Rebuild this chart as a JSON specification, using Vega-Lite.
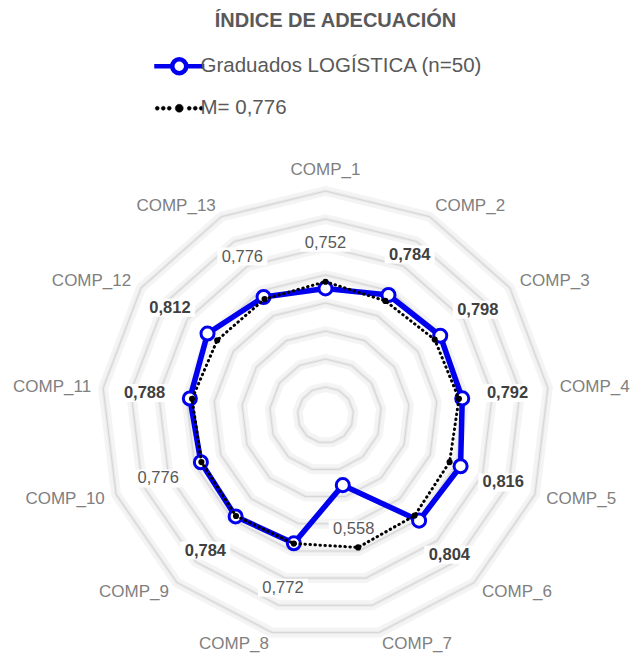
{
  "$schema": "https://vega.github.io/schema/vega-lite/v6.json",
  "width": 631,
  "height": 653,
  "autosize": "none",
  "padding": 0,
  "background": "white",
  "config": {
    "view": {"stroke": null},
    "font": "Liberation Sans",
    "locale": {"number": {"decimal": ",", "thousands": ".", "grouping": [3], "currency": ["", " €"]}}
  },
  "title": {
    "text": "ÍNDICE DE ADECUACIÓN",
    "font": "Liberation Sans",
    "fontSize": 20,
    "fontWeight": "bold",
    "color": "#595959",
    "anchor": "middle",
    "offset": -31,
    "dx": 20
  },
  "datasets": {
    "points": [
      {"comp": "COMP_1", "k": 0, "serie": "Graduados LOGÍSTICA (n=50)", "value": 0.752},
      {"comp": "COMP_2", "k": 1, "serie": "Graduados LOGÍSTICA (n=50)", "value": 0.784},
      {"comp": "COMP_3", "k": 2, "serie": "Graduados LOGÍSTICA (n=50)", "value": 0.798},
      {"comp": "COMP_4", "k": 3, "serie": "Graduados LOGÍSTICA (n=50)", "value": 0.792},
      {"comp": "COMP_5", "k": 4, "serie": "Graduados LOGÍSTICA (n=50)", "value": 0.816},
      {"comp": "COMP_6", "k": 5, "serie": "Graduados LOGÍSTICA (n=50)", "value": 0.804},
      {"comp": "COMP_7", "k": 6, "serie": "Graduados LOGÍSTICA (n=50)", "value": 0.558},
      {"comp": "COMP_8", "k": 7, "serie": "Graduados LOGÍSTICA (n=50)", "value": 0.772},
      {"comp": "COMP_9", "k": 8, "serie": "Graduados LOGÍSTICA (n=50)", "value": 0.784},
      {"comp": "COMP_10", "k": 9, "serie": "Graduados LOGÍSTICA (n=50)", "value": 0.776},
      {"comp": "COMP_11", "k": 10, "serie": "Graduados LOGÍSTICA (n=50)", "value": 0.788},
      {"comp": "COMP_12", "k": 11, "serie": "Graduados LOGÍSTICA (n=50)", "value": 0.812},
      {"comp": "COMP_13", "k": 12, "serie": "Graduados LOGÍSTICA (n=50)", "value": 0.776},
      {"comp": "COMP_1", "k": 0, "serie": "M= 0,776", "value": 0.776},
      {"comp": "COMP_2", "k": 1, "serie": "M= 0,776", "value": 0.760},
      {"comp": "COMP_3", "k": 2, "serie": "M= 0,776", "value": 0.774},
      {"comp": "COMP_4", "k": 3, "serie": "M= 0,776", "value": 0.780},
      {"comp": "COMP_5", "k": 4, "serie": "M= 0,776", "value": 0.774},
      {"comp": "COMP_6", "k": 5, "serie": "M= 0,776", "value": 0.780},
      {"comp": "COMP_7", "k": 6, "serie": "M= 0,776", "value": 0.787},
      {"comp": "COMP_8", "k": 7, "serie": "M= 0,776", "value": 0.773},
      {"comp": "COMP_9", "k": 8, "serie": "M= 0,776", "value": 0.782},
      {"comp": "COMP_10", "k": 9, "serie": "M= 0,776", "value": 0.774},
      {"comp": "COMP_11", "k": 10, "serie": "M= 0,776", "value": 0.780},
      {"comp": "COMP_12", "k": 11, "serie": "M= 0,776", "value": 0.770},
      {"comp": "COMP_13", "k": 12, "serie": "M= 0,776", "value": 0.768}
    ],
    "grid": [
      {"level": 0.4, "k": [0, 1, 2, 3, 4, 5, 6, 7, 8, 9, 10, 11, 12]},
      {"level": 0.5, "k": [0, 1, 2, 3, 4, 5, 6, 7, 8, 9, 10, 11, 12]},
      {"level": 0.6, "k": [0, 1, 2, 3, 4, 5, 6, 7, 8, 9, 10, 11, 12]},
      {"level": 0.7, "k": [0, 1, 2, 3, 4, 5, 6, 7, 8, 9, 10, 11, 12]},
      {"level": 0.8, "k": [0, 1, 2, 3, 4, 5, 6, 7, 8, 9, 10, 11, 12]},
      {"level": 0.9, "k": [0, 1, 2, 3, 4, 5, 6, 7, 8, 9, 10, 11, 12]},
      {"level": 1.0, "k": [0, 1, 2, 3, 4, 5, 6, 7, 8, 9, 10, 11, 12]},
      {"level": 1.1, "k": [0, 1, 2, 3, 4, 5, 6, 7, 8, 9, 10, 11, 12]}
    ]
  },
  "layer": [
    {
      "data": {"name": "grid"},
      "transform": [
        {"flatten": ["k"]},
        {"calculate": "datum.k * 2 * PI / 13", "as": "theta"},
        {"calculate": "(datum.level - 0.3) * sin(datum.theta)", "as": "px"},
        {"calculate": "(datum.level - 0.3) * cos(datum.theta)", "as": "py"}
      ],
      "mark": {"type": "line", "interpolate": "linear-closed", "stroke": "#f4f4f4", "strokeWidth": 10, "strokeJoin": "round"},
      "encoding": {
        "x": {"field": "px", "type": "quantitative", "scale": {"domain": [-1.1625, 1.0911], "nice": false, "zero": false}, "axis": null},
        "y": {"field": "py", "type": "quantitative", "scale": {"domain": [-0.85, 1.4821], "nice": false, "zero": false}, "axis": null},
        "detail": {"field": "level", "type": "nominal"},
        "order": {"field": "k", "type": "quantitative"}
      }
    },
    {
      "data": {"name": "grid"},
      "transform": [
        {"flatten": ["k"]},
        {"calculate": "datum.k * 2 * PI / 13", "as": "theta"},
        {"calculate": "(datum.level - 0.3) * sin(datum.theta)", "as": "px"},
        {"calculate": "(datum.level - 0.3) * cos(datum.theta)", "as": "py"}
      ],
      "mark": {"type": "line", "interpolate": "linear-closed", "stroke": "#ebebeb", "strokeWidth": 3.5, "strokeJoin": "round"},
      "encoding": {
        "x": {"field": "px", "type": "quantitative"},
        "y": {"field": "py", "type": "quantitative"},
        "detail": {"field": "level", "type": "nominal"},
        "order": {"field": "k", "type": "quantitative"}
      }
    },
    {
      "data": {"name": "grid"},
      "transform": [
        {"flatten": ["k"]},
        {"calculate": "datum.k * 2 * PI / 13", "as": "theta"},
        {"calculate": "(datum.level - 0.3) * sin(datum.theta)", "as": "px"},
        {"calculate": "(datum.level - 0.3) * cos(datum.theta)", "as": "py"}
      ],
      "mark": {"type": "line", "interpolate": "linear-closed", "stroke": "#d6d6d6", "strokeWidth": 1.1},
      "encoding": {
        "x": {"field": "px", "type": "quantitative"},
        "y": {"field": "py", "type": "quantitative"},
        "detail": {"field": "level", "type": "nominal"},
        "order": {"field": "k", "type": "quantitative"}
      }
    },
    {
      "data": {"name": "points"},
      "transform": [
        {"filter": "datum.serie === 'Graduados LOGÍSTICA (n=50)'"},
        {"calculate": "datum.k * 2 * PI / 13", "as": "theta"},
        {"calculate": "(datum.value - 0.3 + 0.163) * sin(datum.theta)", "as": "px"},
        {"calculate": "(datum.value - 0.3 + 0.163) * cos(datum.theta)", "as": "py"}
      ],
      "mark": {"type": "point", "shape": "M-1,-0.36H1V0.36H-1Z", "size": 2500, "filled": true, "fill": "white", "opacity": 1, "strokeWidth": 0},
      "encoding": {
        "x": {"field": "px", "type": "quantitative"},
        "y": {"field": "py", "type": "quantitative"}
      }
    },
    {
      "data": {"name": "points"},
      "transform": [
        {"filter": "datum.serie === 'Graduados LOGÍSTICA (n=50)'"},
        {"calculate": "datum.k * 2 * PI / 13", "as": "theta"},
        {"calculate": "(datum.value - 0.3) * sin(datum.theta)", "as": "px"},
        {"calculate": "(datum.value - 0.3) * cos(datum.theta)", "as": "py"}
      ],
      "mark": {"type": "line", "interpolate": "linear-closed", "strokeWidth": 5.5, "strokeJoin": "round"},
      "encoding": {
        "x": {"field": "px", "type": "quantitative"},
        "y": {"field": "py", "type": "quantitative"},
        "order": {"field": "k", "type": "quantitative"},
        "color": {
          "field": "serie",
          "type": "nominal",
          "scale": {"domain": ["Graduados LOGÍSTICA (n=50)", "M= 0,776"], "range": ["#0000ee", "#000000"]},
          "legend": {
            "title": null,
            "orient": "none",
            "legendX": 169,
            "legendY": 56,
            "padding": 0,
            "direction": "vertical",
            "labelFont": "Liberation Sans",
            "labelFontSize": 20.5,
            "labelColor": "#595959",
            "labelOffset": 11,
            "symbolOffset": 0,
            "symbolSize": 100,
            "rowPadding": 15,
            "labelLimit": 400,
            "encode": {
              "symbols": {
                "update": {
                  "shape": {"signal": "datum.value === 'M= 0,776' ? 'M-4,0A0.4,0.4,0,1,1,-4.8,0A0.4,0.4,0,1,1,-4,0ZM-2.8,0A0.4,0.4,0,1,1,-3.6,0A0.4,0.4,0,1,1,-2.8,0ZM-1.6,0A0.4,0.4,0,1,1,-2.4,0A0.4,0.4,0,1,1,-1.6,0ZM0.8,0A0.8,0.8,0,1,1,-0.8,0A0.8,0.8,0,1,1,0.8,0ZM2.4,0A0.4,0.4,0,1,1,1.6,0A0.4,0.4,0,1,1,2.4,0ZM3.6,0A0.4,0.4,0,1,1,2.8,0A0.4,0.4,0,1,1,3.6,0ZM4.8,0A0.4,0.4,0,1,1,4,0A0.4,0.4,0,1,1,4.8,0Z' : 'M-5,0H-1.4M1.4,0H5M1.4,0A1.4,1.4,0,1,1,-1.4,0A1.4,1.4,0,1,1,1.4,0Z'"},
                  "fill": {"signal": "datum.value === 'M= 0,776' ? '#000000' : '#ffffff'"},
                  "stroke": {"signal": "datum.value === 'M= 0,776' ? '#000000' : '#0000ee'"},
                  "strokeWidth": {"signal": "datum.value === 'M= 0,776' ? 0.5 : 4.5"},
                  "strokeDash": {"value": []},
                  "size": {"value": 100},
                  "opacity": {"value": 1},
                  "fillOpacity": {"value": 1}
                }
              }
            }
          }
        }
      }
    },
    {
      "data": {"name": "points"},
      "transform": [
        {"filter": "datum.serie === 'Graduados LOGÍSTICA (n=50)'"},
        {"calculate": "datum.k * 2 * PI / 13", "as": "theta"},
        {"calculate": "(datum.value - 0.3) * sin(datum.theta)", "as": "px"},
        {"calculate": "(datum.value - 0.3) * cos(datum.theta)", "as": "py"}
      ],
      "mark": {"type": "point", "shape": "circle", "size": 170, "filled": false, "fill": "white", "fillOpacity": 1, "stroke": "#0000ee", "strokeWidth": 3, "opacity": 1},
      "encoding": {
        "x": {"field": "px", "type": "quantitative"},
        "y": {"field": "py", "type": "quantitative"}
      }
    },
    {
      "data": {"name": "points"},
      "transform": [
        {"filter": "datum.serie === 'M= 0,776'"},
        {"calculate": "datum.k * 2 * PI / 13", "as": "theta"},
        {"calculate": "(datum.value - 0.3) * sin(datum.theta)", "as": "px"},
        {"calculate": "(datum.value - 0.3) * cos(datum.theta)", "as": "py"}
      ],
      "mark": {"type": "line", "interpolate": "linear-closed", "strokeWidth": 3, "strokeDash": [0.5, 4.5], "strokeCap": "round"},
      "encoding": {
        "x": {"field": "px", "type": "quantitative"},
        "y": {"field": "py", "type": "quantitative"},
        "order": {"field": "k", "type": "quantitative"},
        "color": {"field": "serie", "type": "nominal"}
      }
    },
    {
      "data": {"name": "points"},
      "transform": [
        {"filter": "datum.serie === 'M= 0,776'"},
        {"calculate": "datum.k * 2 * PI / 13", "as": "theta"},
        {"calculate": "(datum.value - 0.3) * sin(datum.theta)", "as": "px"},
        {"calculate": "(datum.value - 0.3) * cos(datum.theta)", "as": "py"}
      ],
      "mark": {"type": "point", "shape": "circle", "size": 38, "filled": true, "color": "#000000", "opacity": 1},
      "encoding": {
        "x": {"field": "px", "type": "quantitative"},
        "y": {"field": "py", "type": "quantitative"}
      }
    },
    {
      "data": {"name": "points"},
      "transform": [
        {"filter": "datum.serie === 'Graduados LOGÍSTICA (n=50)' && datum.value > 0.7765"},
        {"calculate": "datum.k * 2 * PI / 13", "as": "theta"},
        {"calculate": "(datum.value - 0.3 + 0.163) * sin(datum.theta)", "as": "px"},
        {"calculate": "(datum.value - 0.3 + 0.163) * cos(datum.theta)", "as": "py"}
      ],
      "mark": {"type": "text", "font": "Liberation Sans", "fontSize": 16.5, "fontWeight": "bold", "color": "#404040", "baseline": "middle", "align": "center"},
      "encoding": {
        "x": {"field": "px", "type": "quantitative"},
        "y": {"field": "py", "type": "quantitative"},
        "text": {"field": "value", "type": "quantitative", "format": ".3f"}
      }
    },
    {
      "data": {"name": "points"},
      "transform": [
        {"filter": "datum.serie === 'Graduados LOGÍSTICA (n=50)' && datum.value <= 0.7765"},
        {"calculate": "datum.k * 2 * PI / 13", "as": "theta"},
        {"calculate": "(datum.value - 0.3 + 0.163) * sin(datum.theta)", "as": "px"},
        {"calculate": "(datum.value - 0.3 + 0.163) * cos(datum.theta)", "as": "py"}
      ],
      "mark": {"type": "text", "font": "Liberation Sans", "fontSize": 16.5, "color": "#595959", "baseline": "middle", "align": "center"},
      "encoding": {
        "x": {"field": "px", "type": "quantitative"},
        "y": {"field": "py", "type": "quantitative"},
        "text": {"field": "value", "type": "quantitative", "format": ".3f"}
      }
    },
    {
      "data": {"name": "points"},
      "transform": [
        {"filter": "datum.serie === 'Graduados LOGÍSTICA (n=50)' && datum.k === 0"},
        {"calculate": "datum.k * 2 * PI / 13", "as": "theta"},
        {"calculate": "0.875 * sin(datum.theta)", "as": "px"},
        {"calculate": "0.875 * cos(datum.theta)", "as": "py"}
      ],
      "mark": {"type": "text", "font": "Liberation Sans", "fontSize": 17, "color": "#808080", "baseline": "middle", "align": "center"},
      "encoding": {
        "x": {"field": "px", "type": "quantitative"},
        "y": {"field": "py", "type": "quantitative"},
        "text": {"field": "comp", "type": "nominal"}
      }
    },
    {
      "data": {"name": "points"},
      "transform": [
        {"filter": "datum.serie === 'Graduados LOGÍSTICA (n=50)' && datum.k >= 1 && datum.k <= 6"},
        {"calculate": "datum.k * 2 * PI / 13", "as": "theta"},
        {"calculate": "0.843 * sin(datum.theta)", "as": "px"},
        {"calculate": "0.843 * cos(datum.theta)", "as": "py"}
      ],
      "mark": {"type": "text", "font": "Liberation Sans", "fontSize": 17, "color": "#808080", "baseline": "middle", "align": "left"},
      "encoding": {
        "x": {"field": "px", "type": "quantitative"},
        "y": {"field": "py", "type": "quantitative"},
        "text": {"field": "comp", "type": "nominal"}
      }
    },
    {
      "data": {"name": "points"},
      "transform": [
        {"filter": "datum.serie === 'Graduados LOGÍSTICA (n=50)' && datum.k >= 7"},
        {"calculate": "datum.k * 2 * PI / 13", "as": "theta"},
        {"calculate": "0.843 * sin(datum.theta)", "as": "px"},
        {"calculate": "0.843 * cos(datum.theta)", "as": "py"}
      ],
      "mark": {"type": "text", "font": "Liberation Sans", "fontSize": 17, "color": "#808080", "baseline": "middle", "align": "right"},
      "encoding": {
        "x": {"field": "px", "type": "quantitative"},
        "y": {"field": "py", "type": "quantitative"},
        "text": {"field": "comp", "type": "nominal"}
      }
    }
  ]
}
